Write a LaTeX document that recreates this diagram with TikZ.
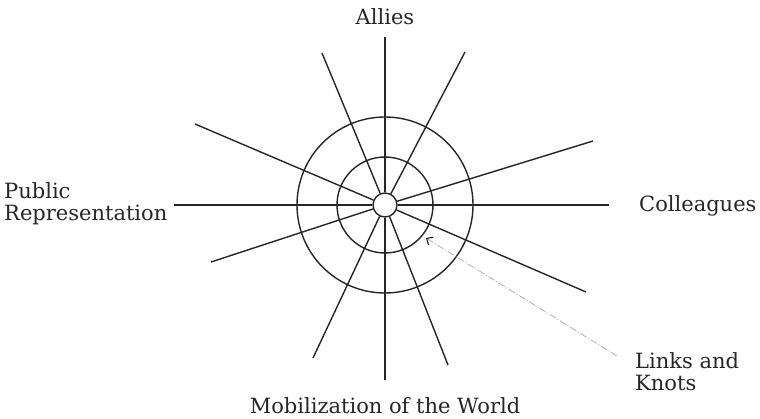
\documentclass[tikz,border=0pt]{standalone}
\usepackage{fontspec}
\setmainfont{DejaVu Serif}
\usetikzlibrary{arrows.meta}
\begin{document}
\begin{tikzpicture}[x=1pt,y=-1pt,
  spoke/.style={line width=1.4pt,black!85},
  ring/.style={line width=1.4pt,black!85},
  lbl/.style={font=\fontsize{21}{22}\selectfont,text=black!85,inner sep=0pt},
  pointer/.style={line width=0.7pt,gray!70,dash pattern=on 7pt off 2pt on 1pt off 2pt,
    -{Straight Barb[length=5pt,width=9pt,color=black,line width=1pt]}}]
\useasboundingbox (0,0) rectangle (760,419);
% rings
\draw[ring] (385,205) circle[radius=88];
\draw[ring] (385,205) circle[radius=48];
\node[draw,circle,line width=1.4pt,black!85,fill=white,minimum size=24pt,inner sep=0pt] (c) at (385,205) {};
% spoke ends
\coordinate (n) at (385,37);
\coordinate (s) at (385,380);
\coordinate (w) at (174,205);
\coordinate (e) at (609,205);
\coordinate (a1) at (322,53);
\coordinate (a2) at (448,365);
\coordinate (b1) at (465,52);
\coordinate (b2) at (313,358);
\coordinate (d1) at (195,124);
\coordinate (d2) at (586,292);
\coordinate (f1) at (593,141);
\coordinate (f2) at (211,262);
\foreach \p in {n,s,w,e,a1,a2,b1,b2,d1,d2,f1,f2}
  \draw[spoke] (c) -- (\p);
% labels
\node[lbl,anchor=base] (allies) at (385,25) {Allies};
\node[lbl,anchor=base] (mob) at (385,413) {Mobilization of the World};
\node[lbl,anchor=base west] (coll) at (639,212) {Colleagues};
\node[lbl,anchor=north west,align=left] (pub) at (4,182) {Public\\Representation};
\node[lbl,anchor=north west,align=left] (links) at (635,352) {Links and\\Knots};
% pointer
\coordinate (tail) at (617,356);
\coordinate (head) at (426,238);
\draw[pointer] (tail) -- (head);
\end{tikzpicture}
\end{document}
